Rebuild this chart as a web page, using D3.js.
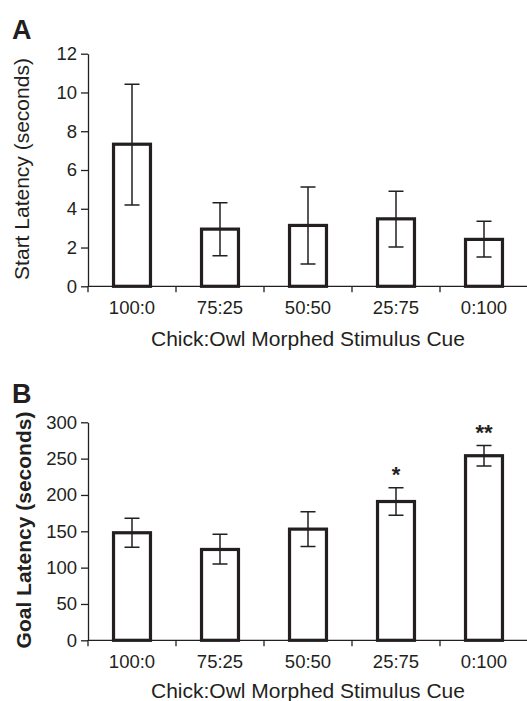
<!DOCTYPE html>
<html>
<head>
<meta charset="utf-8">
<script src="https://cdn.jsdelivr.net/npm/d3@7"></script>
<style>
  body { margin: 0; background: #fff; }
  svg { display: block; font-family: "Liberation Sans", Arial, sans-serif; }
</style>
</head>
<body>
<div id="chart-area"></div>
<script>
// data
const cues = ["100:0", "75:25", "50:50", "25:75", "0:100"];

const startMean = [7.33, 2.95, 3.14, 3.48, 2.42];
const startHigh = [10.43, 4.31, 5.12, 4.91, 3.35];
const startLow = [4.2, 1.58, 1.15, 2.03, 1.51];
const startTicks = [0, 2, 4, 6, 8, 10, 12];

const goalMean = [148, 125, 153, 191, 254];
const goalHigh = [168, 146, 177, 210, 268];
const goalLow = [128, 105, 129, 172, 240];
const goalMarks = ["", "", "", "*", "**"];
const goalTicks = [0, 50, 100, 150, 200, 250, 300];

const W = 527, H = 701;
const INK = "#231f20";
const FONT = "Liberation Sans, Arial, sans-serif";

const svg = d3.select("#chart-area").append("svg")
  .attr("width", W)
  .attr("height", H);

const x = d3.scaleBand()
  .domain(cues)
  .range([88, 528])
  .paddingInner(0.58)
  .paddingOuter(0.29);

function panel(opt) {
  const y = d3.scaleLinear()
    .domain([0, opt.max])
    .range([opt.bottom, opt.top]);

  const g = svg.append("g");

  // panel letter
  g.append("text")
    .attr("x", 12)
    .attr("y", opt.letterY)
    .attr("font-size", "27px")
    .attr("font-weight", "700")
    .attr("fill", INK)
    .text(opt.letter);

  // y axis
  const yAxis = g.append("g")
    .attr("transform", "translate(88,0)")
    .call(d3.axisLeft(y).tickValues(opt.ticks).tickSize(7).tickSizeOuter(0).tickPadding(4));
  yAxis.selectAll("text").attr("font-size", "18.5px").attr("fill", INK).attr("font-family", FONT);
  yAxis.selectAll("line, path").attr("stroke", INK).attr("stroke-width", 1.3);

  // x axis
  const xAxis = g.append("g")
    .attr("transform", `translate(0,${opt.bottom})`)
    .call(d3.axisBottom(x).tickSize(0).tickPadding(15));
  xAxis.select(".domain").remove();
  xAxis.selectAll("text").attr("font-size", "18.5px").attr("fill", INK).attr("font-family", FONT);

  g.append("line")
    .attr("x1", 88).attr("x2", W)
    .attr("y1", opt.bottom).attr("y2", opt.bottom)
    .attr("stroke", INK).attr("stroke-width", 1.3);

  g.selectAll(".xtick")
    .data(cues)
    .enter()
    .append("line")
    .attr("x1", d => x(d) - x.step() * x.paddingOuter())
    .attr("x2", d => x(d) - x.step() * x.paddingOuter())
    .attr("y1", opt.bottom)
    .attr("y2", opt.bottom + 6)
    .attr("stroke", INK).attr("stroke-width", 1.3);

  // bars
  g.selectAll(".bar")
    .data(cues)
    .enter()
    .append("rect")
    .attr("x", d => x(d))
    .attr("y", (d, i) => y(opt.mean[i]))
    .attr("width", x.bandwidth())
    .attr("height", (d, i) => y(0) - y(opt.mean[i]))
    .attr("fill", "#fff")
    .attr("stroke", INK)
    .attr("stroke-width", 3.2);

  // error bars
  const cx = d => x(d) + x.bandwidth() / 2;
  g.selectAll(".err")
    .data(cues)
    .enter()
    .append("path")
    .attr("d", (d, i) => {
      const c = cx(d), hi = y(opt.high[i]), lo = y(opt.low[i]);
      return `M${c - 7.5},${hi}H${c + 7.5}M${c},${hi}V${lo}M${c - 7.5},${lo}H${c + 7.5}`;
    })
    .attr("fill", "none")
    .attr("stroke", INK)
    .attr("stroke-width", 1.5);

  if (opt.marks) {
    g.selectAll(".sig")
      .data(cues)
      .enter()
      .append("text")
      .attr("x", d => cx(d))
      .attr("y", (d, i) => y(opt.high[i]) - 6)
      .attr("text-anchor", "middle")
      .attr("font-size", "22px")
      .attr("font-weight", "700")
      .attr("fill", INK)
      .text((d, i) => opt.marks[i]);
  }

  // axis titles
  g.append("text")
    .attr("x", 308)
    .attr("y", opt.bottom + opt.xTitleGap)
    .attr("text-anchor", "middle")
    .attr("font-size", "21px")
    .attr("fill", INK)
    .text("Chick:Owl Morphed Stimulus Cue");

  g.append("text")
    .attr("transform", `translate(${opt.titleX},${opt.titleY}) rotate(-90)`)
    .attr("text-anchor", "middle")
    .attr("font-size", "21px")
    .attr("font-weight", opt.titleBold ? "700" : "400")
    .attr("fill", INK)
    .text(opt.title);
}

panel({
  letter: "A", letterY: 39,
  top: 53.7, bottom: 286.3, max: 12, ticks: startTicks,
  mean: startMean, high: startHigh, low: startLow, xTitleGap: 59.5,
  title: "Start Latency (seconds)", titleX: 29, titleY: 169, titleBold: false
});

panel({
  letter: "B", letterY: 403,
  top: 422.3, bottom: 640.3, max: 300, ticks: goalTicks,
  mean: goalMean, high: goalHigh, low: goalLow, marks: goalMarks, xTitleGap: 57.5,
  title: "Goal Latency (seconds)", titleX: 31, titleY: 530, titleBold: true
});
</script>
</body>
</html>
